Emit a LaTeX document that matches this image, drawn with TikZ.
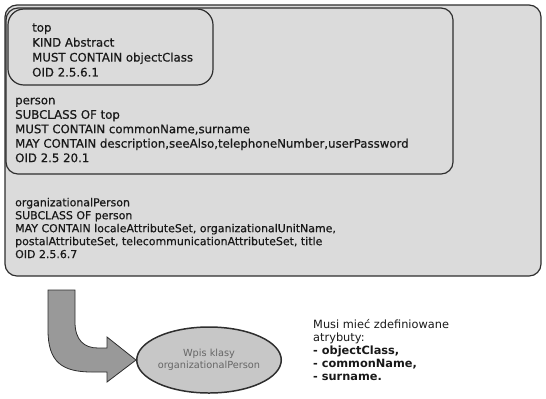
\documentclass[tikz,border=0pt]{standalone}
\usepackage{fontspec}
\setmainfont{DejaVu Sans}
\newfontfamily\clsfont{DejaVu Sans}[FakeBold=0.6]
\usepackage{tikz}
\definecolor{BoxGray}{rgb}{0.86,0.86,0.86}
\definecolor{EdgeGray}{rgb}{0.18,0.18,0.18}
\definecolor{ArrowGray}{rgb}{0.6,0.6,0.6}
\definecolor{EntryGray}{rgb}{0.78,0.78,0.78}
\usetikzlibrary{shapes.geometric}
\tikzset{
  clsbox/.style={draw=EdgeGray, line width=1.2pt, fill=BoxGray, rounded corners=12pt},
  clstext/.style={anchor=north west, align=left, inner sep=0pt, text=black!90},
  entry/.style={ellipse, draw=EdgeGray, line width=1.5pt, fill=EntryGray, inner sep=0pt,
    minimum width=118bp, minimum height=66bp, align=center, text=black!60,
    font=\fontsize{9.8}{12}\selectfont},
}

\begin{document}
\begin{tikzpicture}[x=1bp,y=-1bp]
        \useasboundingbox (0,0) rectangle (546,398);

        \draw[clsbox] (5,5) rectangle (541,276);
        \draw[clsbox] (6,8) rectangle (453,174);
        \draw[clsbox, rounded corners=16pt] (8,9) rectangle (213,85);

        \node[clstext, font=\clsfont\fontsize{11.8}{15}\selectfont] (topcls) at (32,21)
            {\strut top\\KIND Abstract\\MUST CONTAIN objectClass\\OID 2.5.6.1};
        \node[clstext, font=\clsfont\fontsize{11.8}{14.5}\selectfont] (personcls) at (15,94)
            {\strut person\\SUBCLASS OF top\\MUST CONTAIN commonName,surname\\
             MAY CONTAIN description,seeAlso,telephoneNumber,userPassword\\OID 2.5 20.1};
        \node[clstext, font=\clsfont\fontsize{11}{13}\selectfont] (orgcls) at (15,197)
            {\strut organizationalPerson\\SUBCLASS OF person\\
             MAY CONTAIN localeAttributeSet, organizationalUnitName,\\
             postalAttributeSet, telecommunicationAttributeSet, title\\OID 2.5.6.7};

        \node[entry] (entry) at (209,360) {Wpis klasy\\organizationalPerson};

        \filldraw[draw=EdgeGray, line width=0.8pt, fill=ArrowGray]
            (48,290) -- (48,330) .. controls (48,362) and (62,372) .. (92,372)
            -- (107,372) -- (107,382) -- (entry.west) -- (107,337) -- (107,348)
            -- (98,348) .. controls (84,348) and (75,340) .. (75,322) -- (75,290) -- cycle;

        \node[clstext, font=\fontsize{11.4}{13}\selectfont] (attrs) at (313,319)
            {\strut Musi mieć zdefiniowane\\atrybuty:\\\textbf{- objectClass,}\\
             \textbf{- commonName,}\\\textbf{- surname.}};
    \end{tikzpicture}
\end{document}
